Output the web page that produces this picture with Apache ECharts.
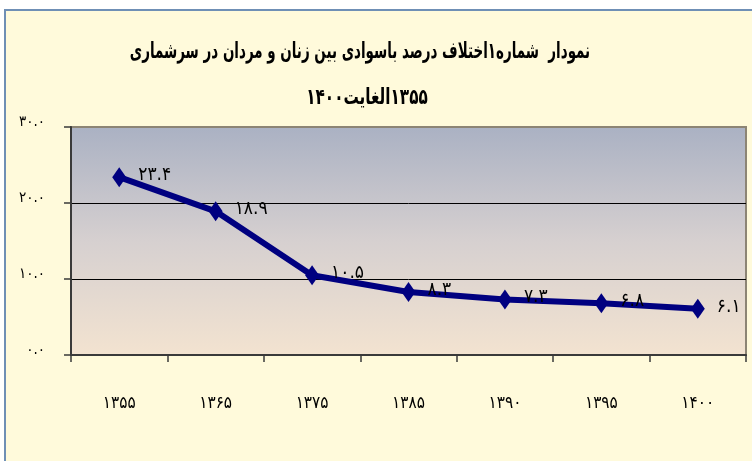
<!DOCTYPE html>
<html>
<head>
<meta charset="utf-8">
<script src="https://cdn.jsdelivr.net/npm/echarts@6/dist/echarts.min.js"></script>
<style>
html,body{margin:0;padding:0;background:#ffffff;}
#chart{width:752px;height:461px;}
</style>
</head>
<body>
<div id="chart" dir="rtl"></div>
<script>
const categories = ['1355','1365','1375','1385','1390','1395','1400'];
const values = [23.4, 18.9, 10.5, 8.3, 7.3, 6.8, 6.1];
const yTicks = [0, 10, 20, 30];
const titleLine1 = 'نمودار  شماره۱اختلاف درصد باسوادی بین زنان و مردان در سرشماری';
const titleLine2 = '\u200F۱۳۵۵الغایت۱۴۰۰\u200F';

function fa(s){ return String(s).replace(/[0-9]/g, d => '۰۱۲۳۴۵۶۷۸۹'[+d]); }

const FONT = '"DejaVu Sans Condensed","DejaVu Sans",sans-serif';
const chart = echarts.init(document.getElementById('chart'), null, {renderer:'canvas'});
chart.setOption({
  backgroundColor: '#ffffff',
  animation: false,
  graphic: [{
    type: 'rect', z: -10, silent: true,
    shape: {x: 5, y: 10, width: 800, height: 500},
    style: {fill: '#FFFADB', stroke: '#6F8FB5', lineWidth: 2}
  }, {
    type: 'text', silent: true, x: 360, y: 52, scaleX: 0.68, scaleY: 1,
    style: {text: titleLine1, fontFamily: FONT, fontWeight: 'bold', fontSize: 22, fill: '#000',
      align: 'center', verticalAlign: 'middle'}
  }, {
    type: 'text', silent: true, x: 367, y: 98, scaleX: 0.77, scaleY: 1,
    style: {text: titleLine2, fontFamily: FONT, fontWeight: 'bold', fontSize: 22, fill: '#000',
      align: 'center', verticalAlign: 'middle'}
  }],
  grid: {
    left: 71, right: 6, top: 127, bottom: 106,
    show: true,
    borderColor: '#8C8474', borderWidth: 2,
    backgroundColor: {type: 'linear', x: 0, y: 0, x2: 0, y2: 1,
      colorStops: [{offset: 0, color: '#AAB1C3'}, {offset: 0.5, color: '#D6D0D0'}, {offset: 1, color: '#F3E3D0'}]}
  },
  xAxis: {
    type: 'category', data: categories, boundaryGap: true,
    axisLine: {lineStyle: {color: '#3A3A3A', width: 2}},
    axisTick: {show: true, length: 7, lineStyle: {color: '#3A3A3A', width: 1.5}},
    axisLabel: {formatter: v => fa(v), fontFamily: FONT, fontSize: 17, color: '#000', margin: 40}
  },
  yAxis: {
    type: 'value', min: yTicks[0], max: yTicks[yTicks.length-1], interval: 10,
    axisLine: {show: true, lineStyle: {color: '#3A3A3A', width: 2}},
    axisTick: {show: true, length: 7, lineStyle: {color: '#3A3A3A', width: 1.5}},
    splitLine: {show: true, showMinLine: false, showMaxLine: false, lineStyle: {color: '#000', width: 1}},
    axisLabel: {formatter: v => fa(v.toFixed(1)), fontFamily: FONT, fontSize: 15, color: '#000', margin: 26,
      verticalAlign: 'bottom', lineHeight: 10}
  },
  series: [{
    type: 'line', data: values,
    lineStyle: {color: '#000080', width: 6},
    itemStyle: {color: '#000080'},
    symbol: 'diamond', symbolSize: [14, 20],
    label: {show: true, position: 'right', distance: 12, offset: [0, -2],
      formatter: p => fa(p.value), fontFamily: FONT, fontSize: 19, color: '#000'}
  }]
});
</script>
</body>
</html>
